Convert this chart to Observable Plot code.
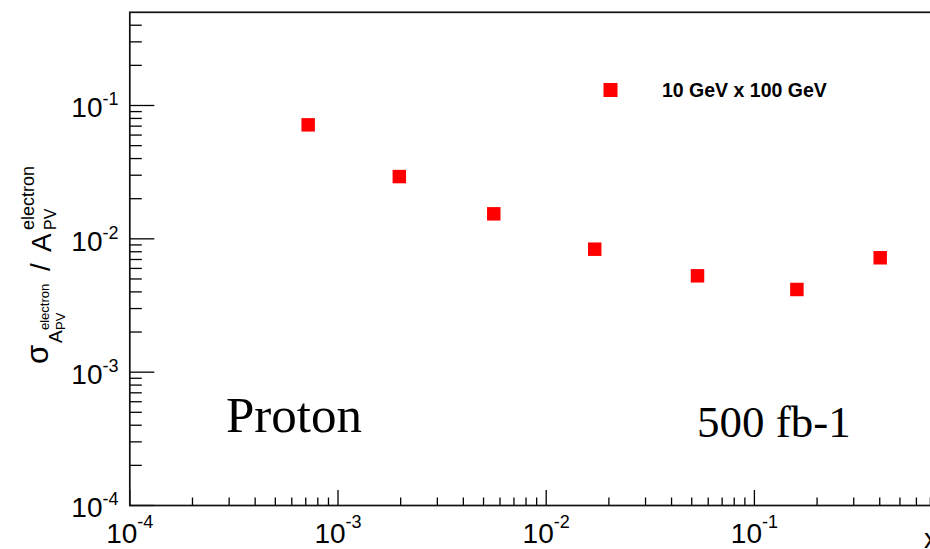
<!DOCTYPE html>
<html>
<head>
<meta charset="utf-8">
<script src="https://cdn.jsdelivr.net/npm/d3@7"></script>
<script src="https://cdn.jsdelivr.net/npm/@observablehq/plot@0.6"></script>
<style>
  html, body { margin: 0; padding: 0; background: #fff; overflow: hidden; }
  #chart { width: 930px; height: 549px; overflow: hidden; position: relative; }
  #chart svg { display: block; max-width: none !important; height: 549px !important; }
</style>
</head>
<body>
<div id="chart"></div>
<script>
// Relative uncertainty of the parity-violating electron asymmetry per x bin
const xBins = [7.19e-4, 1.97e-3, 5.60e-3, 0.0171, 0.0533, 0.160, 0.402];
const relError = [0.0716, 0.0293, 0.0154, 0.00836, 0.00528, 0.00417, 0.00721];
const seriesLabel = "10 GeV x 100 GeV";

// Axis decades and their labels (base^exponent)
const xMajorTicks = [1e-4, 1e-3, 1e-2, 1e-1];
const xTickLabels = ["10^-4", "10^-3", "10^-2", "10^-1"];
const yMajorTicks = [1e-4, 1e-3, 1e-2, 1e-1];
const yTickLabels = ["10^-4", "10^-3", "10^-2", "10^-1"];
const minorSteps = [2, 3, 4, 5, 6, 7, 8, 9];
const xDomain = [1e-4, 1];
const yDomain = [1e-4, 0.5];
const xTitle = "x";
const annotations = ["Proton", "500 fb-1"];

const xMinorTicks = xMajorTicks.flatMap(d => minorSteps.map(s => s * d)).filter(v => v < xDomain[1]);
const yMinorTicks = yMajorTicks.flatMap(d => minorSteps.map(s => s * d)).filter(v => v < yDomain[1]);

const points = xBins.map((x, i) => ({x, y: relError[i]}));

const W = 975, H = 549;
const SANS = "'Liberation Sans', Arial, Helvetica, sans-serif";
const SERIF = "'Liberation Serif', 'Times New Roman', serif";

const chart = Plot.plot({
  width: W,
  height: H,
  marginLeft: 129.3,
  marginRight: W - 962.1,
  marginTop: 11.8,
  marginBottom: 44,
  style: {fontFamily: SANS, background: "white", color: "black", overflow: "visible"},
  x: {type: "log", domain: xDomain},
  y: {type: "log", domain: yDomain},
  marks: [
    // inward ticks on the bottom axis
    Plot.axisX(xMinorTicks, {anchor: "bottom", tickSize: -7.5, fill: "none", strokeWidth: 1.3, label: null}),
    Plot.axisX(xMajorTicks, {anchor: "bottom", tickSize: -15, fill: "none", strokeWidth: 1.3, label: null}),
    Plot.axisX(xMajorTicks, {anchor: "bottom", tickSize: 0, tickPadding: 18, fontSize: 28,
      tickFormat: d => xTickLabels[xMajorTicks.indexOf(d)], label: null}),
    // inward ticks on the left axis
    Plot.axisY(yMinorTicks, {anchor: "left", tickSize: -12.5, fill: "none", strokeWidth: 1.3, label: null}),
    Plot.axisY(yMajorTicks, {anchor: "left", tickSize: -25, fill: "none", strokeWidth: 1.3, label: null}),
    Plot.axisY(yMajorTicks, {anchor: "left", tickSize: 0, tickPadding: 11.3, fontSize: 28,
      tickFormat: d => yTickLabels[yMajorTicks.indexOf(d)], label: null}),
    Plot.frame({stroke: "#111", strokeWidth: 1.7}),
    Plot.dot(points, {x: "x", y: "y", symbol: "square", r: 7.6, fill: "#ff0000", stroke: "none"})
  ]
});

document.getElementById("chart").appendChild(chart);
const svg = d3.select(chart);

// Turn "10^-n" tick labels into base + superscript
function superscriptLabels(selector, baseShift, rise) {
  svg.selectAll(selector).each(function() {
    const el = d3.select(this);
    const [base, exp] = el.text().split("^");
    el.text(null);
    el.append("tspan").attr("dy", baseShift).text(base);
    el.append("tspan").attr("font-size", 18).attr("dy", -rise).text(exp);
  });
}
superscriptLabels('g[aria-label="x-axis tick label"] text', 0, 15);
superscriptLabels('g[aria-label="y-axis tick label"] text', 3, 12);

const xScale = chart.scale("x");
const yScale = chart.scale("y");
const xEnd = xScale.range[1];
const yBottom = yScale.range[0];

// x-axis title, right-aligned near the end of the axis
svg.append("text")
  .attr("x", xEnd - 24).attr("y", yBottom + 43)
  .attr("text-anchor", "end")
  .attr("font-family", SANS).attr("font-size", 28)
  .text(xTitle);

// y-axis title: sigma_{A_PV^electron} / A_PV^electron, read bottom to top
const yTitle = svg.append("g")
  .attr("transform", "rotate(-90)")
  .attr("font-family", SANS)
  .attr("text-anchor", "start")
  .attr("fill", "black");
const titleParts = [
  {t: "σ", at: 364, base: 48, size: 31},
  {t: "A", at: 343, base: 62, size: 19},
  {t: "PV", at: 330, base: 65, size: 13},
  {t: "electron", at: 330, base: 49, size: 13},
  {t: "/", at: 271, base: 50, size: 28},
  {t: "A", at: 252, base: 51, size: 28},
  {t: "PV", at: 230, base: 56, size: 16},
  {t: "electron", at: 230, base: 34, size: 18}
];
titleParts.forEach(p => {
  yTitle.append("text")
    .attr("x", -p.at).attr("y", p.base)
    .attr("font-size", p.size)
    .text(p.t);
});

// legend
svg.append("rect")
  .attr("x", 603.5).attr("y", 83).attr("width", 14).attr("height", 14)
  .attr("fill", "#ff0000");
svg.append("text")
  .attr("x", 662).attr("y", 97)
  .attr("text-anchor", "start")
  .attr("font-family", SANS).attr("font-weight", "bold").attr("font-size", 19.5)
  .text(seriesLabel);

// annotations
svg.append("text")
  .attr("x", 226).attr("y", 432)
  .attr("text-anchor", "start")
  .attr("font-family", SERIF).attr("font-size", 51)
  .text(annotations[0]);
svg.append("text")
  .attr("x", 697).attr("y", 437)
  .attr("text-anchor", "start")
  .attr("font-family", SERIF).attr("font-size", 45)
  .text(annotations[1]);
</script>
</body>
</html>
